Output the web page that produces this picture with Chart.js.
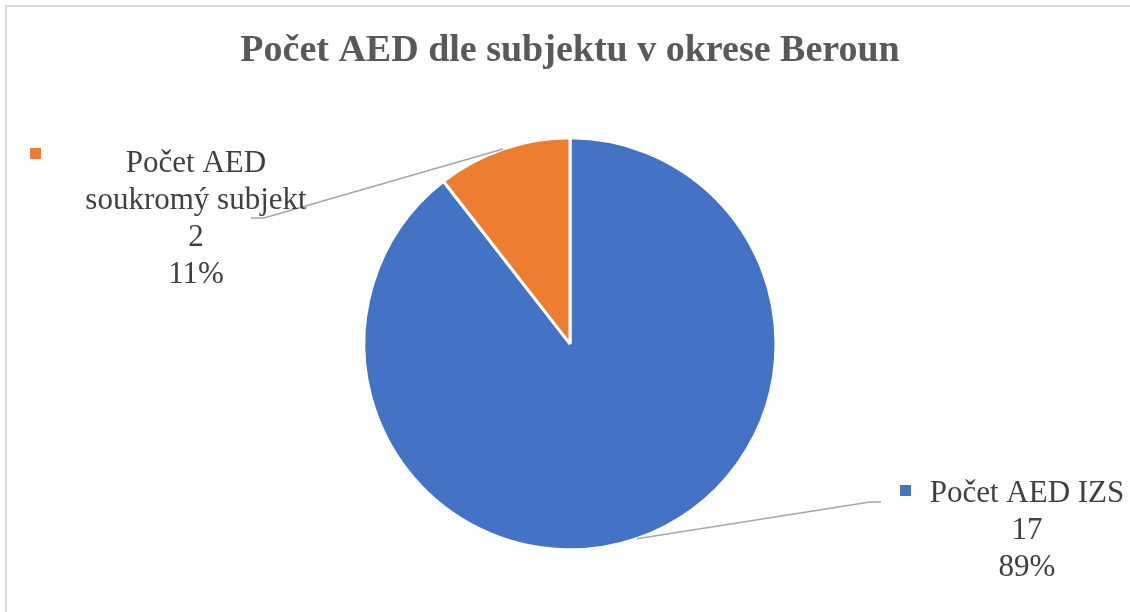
<!DOCTYPE html>
<html>
<head>
<meta charset="utf-8">
<script src="https://cdn.jsdelivr.net/npm/chart.js@4"></script>
<style>
  body { margin: 0; background: #fff; }
  #wrap { width: 1130px; height: 612px; position: relative; }
</style>
</head>
<body>
<div id="wrap"><canvas id="graf_aed"></canvas></div>
<script>
const categories = ['Počet AED IZS', 'Počet AED soukromý subjekt']
const values = [17, 2]
const colors = ['#4472C4', '#ED7D31']

// rozmístění popisků (řádky textu, střed textu, značka, lomená spojnice)
const labelLines = [['Počet AED IZS'], ['Počet AED', 'soukromý subjekt']]
const labelLayout = [
  { cx: 1027, y0: 502, marker: [900, 485], knee: [870, 502], end: [881, 502] },
  { cx: 196, y0: 172, marker: [30, 148], knee: [264, 218], end: [251, 218] }
]

const total = values.reduce((a, b) => a + b, 0)

const ramecek = {
  id: 'ramecek',
  beforeDraw(chart) {
    const c = chart.ctx
    c.save()
    c.strokeStyle = '#d9d9d9'
    c.lineWidth = 2
    c.beginPath()
    c.moveTo(6, chart.height)
    c.lineTo(6, 6)
    c.lineTo(chart.width, 6)
    c.stroke()
    c.restore()
  }
}

const popisky = {
  id: 'popisky',
  afterDraw(chart) {
    const c = chart.ctx
    const meta = chart.getDatasetMeta(0)
    c.save()
    meta.data.forEach((arc, i) => {
      const p = arc.getProps(['x', 'y', 'startAngle', 'endAngle', 'outerRadius'], true)
      const mid = (p.startAngle + p.endAngle) / 2
      const r = p.outerRadius
      const L = labelLayout[i]

      // spojnice
      c.strokeStyle = '#a6a6a6'
      c.lineWidth = 1.5
      c.beginPath()
      c.moveTo(p.x + Math.cos(mid) * r, p.y + Math.sin(mid) * r)
      c.lineTo(L.knee[0], L.knee[1])
      c.lineTo(L.end[0], L.end[1])
      c.stroke()

      // značka legendy
      c.fillStyle = colors[i]
      c.fillRect(L.marker[0], L.marker[1], 11, 11)

      // text
      const lines = labelLines[i].concat([String(values[i]), Math.round(values[i] / total * 100) + '%'])
      c.fillStyle = '#404040'
      c.font = '31px "Liberation Serif", "Times New Roman", serif'
      c.textAlign = 'center'
      c.textBaseline = 'alphabetic'
      lines.forEach((t, k) => c.fillText(t, L.cx, L.y0 + k * 37))
    })
    c.restore()
  }
}

const ctx = document.getElementById('graf_aed')

const graph = new Chart(ctx, {
  type: 'pie',
  data: {
    labels: categories,
    datasets: [{
      data: values,
      backgroundColor: colors,
      borderColor: '#fff',
      borderWidth: 3
    }]
  },
  options: {
    responsive: true,
    maintainAspectRatio: false,
    animation: false,
    radius: 206,
    layout: { padding: { left: 10, right: 0, top: 0, bottom: 18 } },
    plugins: {
      legend: { display: false },
      tooltip: { enabled: false },
      title: {
        display: true,
        text: 'Počet AED dle subjektu v okrese Beroun',
        color: '#595959',
        font: { family: '"Liberation Serif", "Times New Roman", serif', size: 38, weight: 'bold' },
        padding: { top: 28, bottom: 20 }
      }
    }
  },
  plugins: [ramecek, popisky]
})
</script>
</body>
</html>
